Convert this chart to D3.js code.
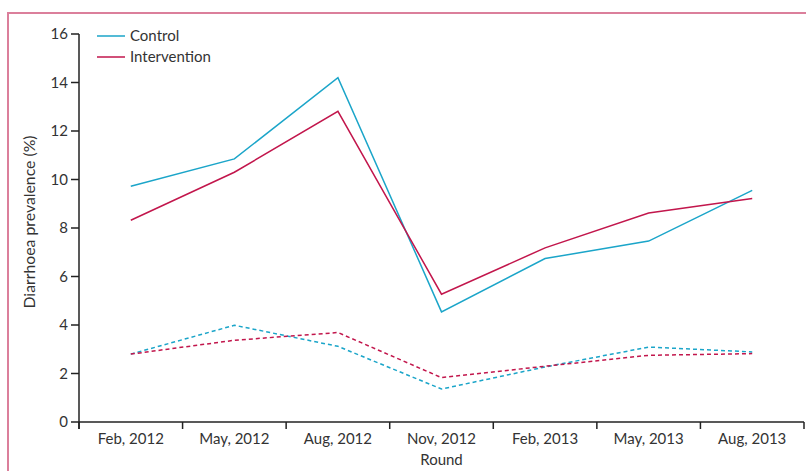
<!DOCTYPE html>
<html>
<head>
<meta charset="utf-8">
<script src="https://cdnjs.cloudflare.com/ajax/libs/d3/7.8.5/d3.min.js"></script>
<style>
  body { margin: 0; background: #fff; }
  svg { display: block; font-family: Lato, 'Open Sans', sans-serif; }
</style>
</head>
<body>
<div id="chart"></div>
<script>
// survey rounds
var rounds = ['Feb, 2012', 'May, 2012', 'Aug, 2012', 'Nov, 2012', 'Feb, 2013', 'May, 2013', 'Aug, 2013']
// solid lines (top group)
var controlHigh = [9.72, 10.85, 14.2, 4.54, 6.74, 7.46, 9.55]
var interventionHigh = [8.32, 10.3, 12.81, 5.27, 7.18, 8.62, 9.22]
// dashed lines (bottom group)
var controlLow = [2.8, 3.99, 3.12, 1.36, 2.27, 3.09, 2.89]
var interventionLow = [2.8, 3.37, 3.69, 1.83, 2.3, 2.75, 2.82]
var yTicks = [0, 2, 4, 6, 8, 10, 12, 14, 16]
var legendNames = ['Control', 'Intervention']

var W = 806, H = 471
var margin = {top: 34, left: 79, right: 2, bottom: 49}
var cyan = '#1ba5c9', crimson = '#c2164c'

var svg = d3.select('#chart').append('svg')
  .attr('width', W)
  .attr('height', H)

// pink frame (left + top only)
svg.append('path')
  .attr('d', 'M8,' + H + 'V13H' + W)
  .attr('fill', 'none')
  .attr('stroke', '#db7f9b')
  .attr('stroke-width', 2)

var x = d3.scaleBand()
  .domain(rounds)
  .range([margin.left, W - margin.right])

var y = d3.scaleLinear()
  .domain([0, 16])
  .range([H - margin.bottom, margin.top])

// x axis: ticks at the band edges
var xAxis = svg.append('g').attr('transform', 'translate(0,' + y(0) + ')')
xAxis.append('line')
  .attr('x1', margin.left).attr('x2', W - margin.right)
  .attr('stroke', '#222').attr('stroke-width', 1.5)
var edges = rounds.map(function(r) { return x(r) }).concat([x(rounds[rounds.length - 1]) + x.bandwidth()])
xAxis.selectAll('.edge').data(edges).enter().append('line')
  .attr('class', 'edge')
  .attr('x1', function(d) { return d }).attr('x2', function(d) { return d })
  .attr('y1', 0).attr('y2', 7)
  .attr('stroke', '#222').attr('stroke-width', 1.5)
xAxis.selectAll('text').data(rounds).enter().append('text')
  .attr('x', function(d) { return x(d) + x.bandwidth() / 2 })
  .attr('y', 22)
  .attr('text-anchor', 'middle')
  .attr('font-size', 15)
  .attr('fill', '#333')
  .text(function(d) { return d })

// y axis
var yAxis = svg.append('g').attr('transform', 'translate(' + margin.left + ',0)')
yAxis.append('line')
  .attr('y1', y(16)).attr('y2', y(0) + 7)
  .attr('stroke', '#222').attr('stroke-width', 1.5)
yAxis.selectAll('.tick').data(yTicks).enter().append('line')
  .attr('class', 'tick')
  .attr('x1', -8).attr('x2', 0)
  .attr('y1', function(d) { return y(d) }).attr('y2', function(d) { return y(d) })
  .attr('stroke', '#222').attr('stroke-width', 1.5)
yAxis.selectAll('text').data(yTicks).enter().append('text')
  .attr('x', -11)
  .attr('y', function(d) { return y(d) })
  .attr('dy', '0.35em')
  .attr('text-anchor', 'end')
  .attr('font-size', 15)
  .attr('fill', '#333')
  .text(function(d) { return d })

// axis titles
svg.append('text')
  .attr('x', (margin.left + W - margin.right) / 2)
  .attr('y', 465)
  .attr('text-anchor', 'middle')
  .attr('font-size', 15)
  .attr('fill', '#333')
  .text('Round')
svg.append('text')
  .attr('transform', 'translate(35,222) rotate(-90)')
  .attr('text-anchor', 'middle')
  .attr('font-size', 15.8)
  .attr('fill', '#333')
  .text('Diarrhoea prevalence (%)')

var line = d3.line()
  .x(function(d, i) { return x(rounds[i]) + x.bandwidth() / 2 })
  .y(function(d) { return y(d) })

var series = [
  {values: controlLow, color: cyan, dash: '4,3'},
  {values: interventionLow, color: crimson, dash: '4,3'},
  {values: controlHigh, color: cyan, dash: null},
  {values: interventionHigh, color: crimson, dash: null}
]
series.forEach(function(s) {
  svg.append('path')
    .attr('d', line(s.values))
    .attr('fill', 'none')
    .attr('stroke', s.color)
    .attr('stroke-width', 1.5)
    .attr('stroke-dasharray', s.dash)
})

// legend
var legend = svg.append('g')
legendNames.forEach(function(name, i) {
  var ly = 36 + i * 21
  legend.append('line')
    .attr('x1', 97).attr('x2', 125)
    .attr('y1', ly).attr('y2', ly)
    .attr('stroke', i === 0 ? cyan : crimson)
    .attr('stroke-width', 1.5)
  legend.append('text')
    .attr('x', 130).attr('y', ly)
    .attr('dy', '0.35em')
    .attr('font-size', 15)
    .attr('fill', '#333')
    .text(name)
})
</script>
</body>
</html>
